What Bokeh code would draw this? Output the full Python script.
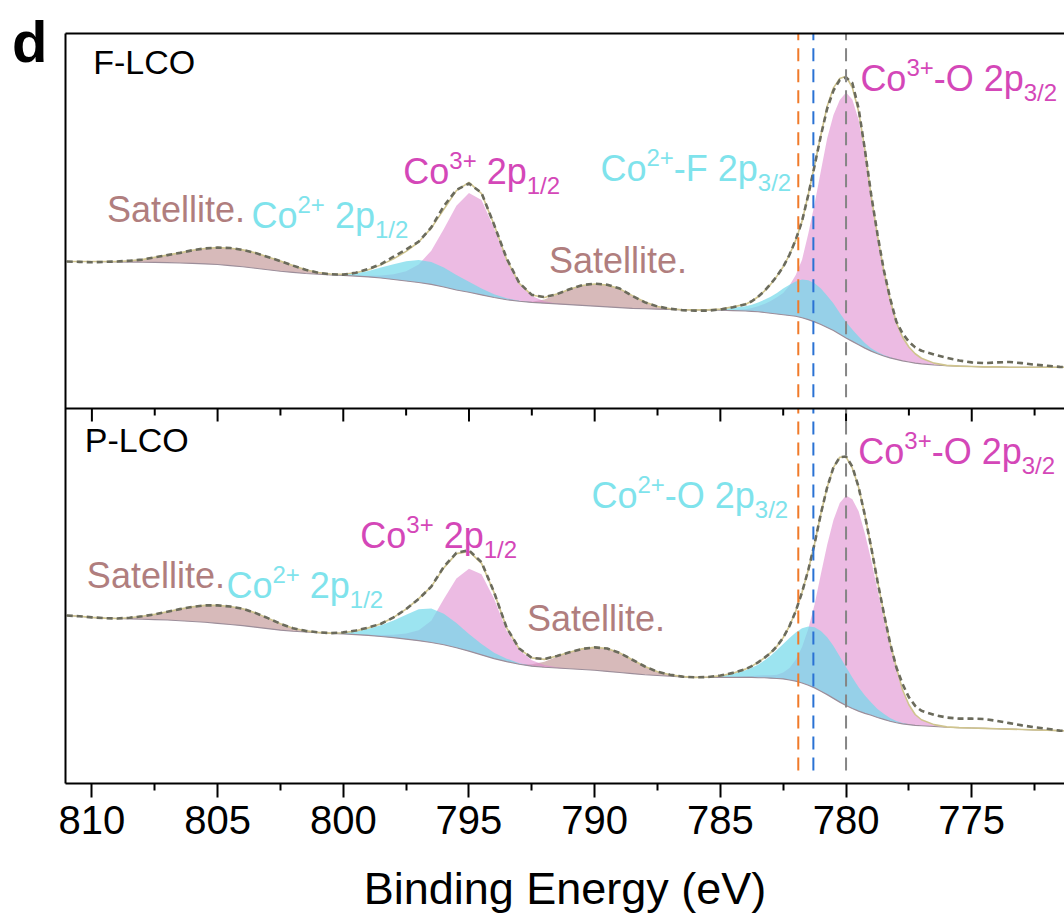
from bokeh.plotting import figure
from bokeh.models import Range1d, LinearAxis, Label, Span, FixedTicker
from bokeh.embed import file_html
from bokeh.resources import INLINE

# ---------------- data ----------------
energy = [811.0, 810.5, 810.0, 809.5, 809.0, 808.5, 808.0, 807.5, 807.0, 806.5,
          806.0, 805.5, 805.0, 804.5, 804.0, 803.5, 803.0, 802.5, 802.0, 801.5,
          801.0, 800.5, 800.0, 799.5, 799.0, 798.5, 798.0, 797.5, 797.0, 796.5,
          796.0, 795.5, 795.0, 794.5, 794.0, 793.5, 793.0, 792.5, 792.0, 791.5,
          791.0, 790.5, 790.0, 789.5, 789.0, 788.5, 788.0, 787.5, 787.0, 786.5,
          786.0, 785.5, 785.0, 784.5, 784.0,
          783.75, 783.5, 783.25, 783.0, 782.75, 782.5, 782.25, 782.0, 781.75, 781.5,
          781.25, 781.0, 780.75, 780.5, 780.25, 780.0, 779.75, 779.5, 779.25, 779.0,
          778.75, 778.5, 778.25, 778.0, 777.75, 777.5, 777.25, 777.0,
          776.5, 776.0, 775.5, 775.0, 774.5, 774.0, 773.5, 773.0, 772.5, 772.0, 771.5, 771.0]

# F-LCO (upper panel)
raw_f = [39.2, 39.1, 39.0, 39.1, 39.2, 39.4, 39.7, 40.3, 40.9, 41.5,
         42.2, 42.7, 42.9, 42.8, 42.3, 41.5, 40.4, 39.3, 38.1, 37.0,
         36.2, 35.8, 35.7, 36.2, 37.2, 38.5, 40.5, 42.4, 44.5, 48.3,
         54.0, 58.3, 60.0, 57.5, 49.0, 40.0, 33.5, 30.3, 29.7, 30.5,
         31.8, 32.9, 33.3, 33.0, 32.0, 30.0, 28.3, 27.2, 26.6, 26.2,
         26.1, 26.1, 26.4, 27.0, 27.8,
         28.6, 29.8, 31.3, 33.2, 35.3, 37.8, 41.0, 45.0, 50.0, 57.0,
         64.8, 72.8, 80.0, 84.8, 87.6, 88.3, 86.8, 80.0, 69.0, 57.0,
         46.5, 37.0, 29.5, 23.2, 20.0, 17.8, 16.3, 15.4,
         14.4, 13.5, 12.8, 12.3, 12.1, 12.3, 12.4, 12.1, 11.7, 11.4, 11.1, 11.0]
bg_f = [39.2, 39.2, 39.2, 39.15, 39.1, 39.05, 39.0, 38.95, 38.9, 38.8,
        38.7, 38.55, 38.4, 38.1, 37.8, 37.4, 37.0, 36.6, 36.3, 36.0,
        35.8, 35.6, 35.5, 35.3, 35.1, 34.8, 34.4, 34.0, 33.6, 33.1,
        32.4, 31.6, 31.0, 30.3, 29.6, 29.0, 28.6, 28.3, 28.1, 27.9,
        27.7, 27.5, 27.3, 27.1, 26.9, 26.7, 26.6, 26.5, 26.4, 26.3,
        26.3, 26.2, 26.2, 26.1, 26.0,
        25.9, 25.8, 25.6, 25.4, 25.2, 25.0, 24.8, 24.6, 24.2, 23.7,
        23.1, 22.4, 21.6, 20.8, 19.8, 18.8, 17.9, 17.0, 16.1, 15.3,
        14.6, 14.0, 13.5, 13.1, 12.7, 12.4, 12.1, 11.9,
        11.6, 11.4, 11.3, 11.2, 11.1, 11.1, 11.0, 11.0, 11.0, 11.0, 11.0, 11.0]

# P-LCO (lower panel)
raw_p = [44.8, 44.6, 44.3, 44.1, 44.0, 44.2, 44.6, 45.1, 45.8, 46.5,
         47.1, 47.5, 47.5, 47.2, 46.6, 45.5, 44.1, 42.6, 41.4, 40.7,
         40.3, 40.1, 40.3, 40.8, 41.6, 42.6, 44.3, 46.5, 49.2, 52.5,
         57.8, 61.5, 62.2, 59.0, 51.0, 41.5, 36.0, 33.5, 33.2, 34.0,
         35.0, 35.9, 36.3, 36.0, 34.8, 33.0, 31.2, 29.8, 29.0, 28.5,
         28.3, 28.4, 28.8, 29.5, 30.5,
         31.3, 32.3, 33.5, 34.8, 36.6, 38.9, 42.0, 46.0, 51.0, 57.0,
         64.0, 72.0, 79.0, 84.3, 87.0, 87.2, 84.5, 79.0, 71.5, 63.0,
         54.0, 45.5, 37.5, 31.0, 26.5, 23.0, 20.7, 19.4,
         18.3, 17.6, 17.3, 17.3, 17.2, 16.7, 16.1, 15.5, 15.0, 14.6, 14.1, 13.9]
bg_p = [44.8, 44.6, 44.3, 44.1, 44.0, 43.9, 43.8, 43.7, 43.6, 43.4,
        43.2, 43.0, 42.7, 42.4, 42.1, 41.7, 41.3, 40.9, 40.6, 40.4,
        40.2, 40.0, 39.9, 39.7, 39.5, 39.2, 38.9, 38.5, 38.1, 37.6,
        37.0, 36.2, 35.3, 34.3, 33.3, 32.5, 31.8, 31.3, 31.0, 30.8,
        30.6, 30.4, 30.2, 29.9, 29.6, 29.3, 29.0, 28.8, 28.6, 28.4,
        28.3, 28.3, 28.3, 28.3, 28.3,
        28.3, 28.2, 28.2, 28.1, 28.0, 27.9, 27.6, 27.3, 26.8, 26.2,
        25.5, 24.6, 23.7, 22.7, 21.7, 20.8, 20.0, 19.3, 18.7, 18.2,
        17.6, 17.1, 16.6, 16.2, 15.9, 15.7, 15.5, 15.4,
        15.2, 15.0, 14.9, 14.8, 14.7, 14.6, 14.5, 14.4, 14.3, 14.2, 14.1, 14.0]

# fitted components: energies and heights above the background
sat1_e = [810.5, 810.0, 809.5, 809.0, 808.5, 808.0, 807.5, 807.0, 806.5, 806.0, 805.5,
          805.0, 804.5, 804.0, 803.5, 803.0, 802.5, 802.0, 801.5, 801.0, 800.5, 800.0]
co2_12_e = [800.5, 800.0, 799.5, 799.0, 798.5, 798.0, 797.5, 797.0, 796.5, 796.0,
            795.5, 795.0, 794.5, 794.0, 793.5, 793.0, 792.5, 792.0]
co3_12_e = [799.5, 799.0, 798.5, 798.0, 797.5, 797.0, 796.5, 796.0, 795.5, 795.0,
            794.5, 794.0, 793.5, 793.0, 792.5, 792.0, 791.5, 791.0]
sat2_e = [793.0, 792.5, 792.0, 791.5, 791.0, 790.5, 790.0, 789.5, 789.0, 788.5,
          788.0, 787.5, 787.0, 786.5, 786.0]
co2_32_e = [785.5, 785.0, 784.5, 784.0,
            783.75, 783.5, 783.25, 783.0, 782.75, 782.5, 782.25, 782.0, 781.75, 781.5,
            781.25, 781.0, 780.75, 780.5, 780.25, 780.0, 779.75, 779.5, 779.25, 779.0,
            778.75, 778.5, 778.25, 778.0, 777.75, 777.5, 777.25, 777.0]
co3_32_e = [784.5, 784.0,
            783.75, 783.5, 783.25, 783.0, 782.75, 782.5, 782.25, 782.0, 781.75, 781.5,
            781.25, 781.0, 780.75, 780.5, 780.25, 780.0, 779.75, 779.5, 779.25, 779.0,
            778.75, 778.5, 778.25, 778.0, 777.75, 777.5, 777.25, 777.0,
            776.5, 776.0]

sat1_f = [0.0, 0.0, 0.05, 0.1, 0.35, 0.7, 1.35, 2.0, 2.7, 3.5, 4.1,
          4.5, 4.65, 4.5, 4.1, 3.4, 2.7, 1.8, 1.0, 0.45, 0.15, 0.0]
co2_12_f = [0.1, 0.3, 0.8, 1.6, 2.8, 4.1, 5.3, 6.0, 6.0, 5.2,
            4.0, 2.8, 1.7, 0.9, 0.4, 0.15, 0.05, 0.0]
co3_12_f = [0.1, 0.3, 0.7, 1.4, 2.6, 4.8, 9.0, 15.5, 22.5, 26.5,
            25.3, 18.5, 10.3, 4.6, 1.7, 0.5, 0.1, 0.0]
sat2_f = [0.0, 0.2, 1.0, 2.5, 4.1, 5.3, 5.9, 5.8, 5.0, 3.4, 1.8, 0.7, 0.2, 0.05, 0.0]
co2_32_f = [0.1, 0.3, 0.8, 1.3,
            1.8, 2.5, 3.4, 4.4, 5.6, 7.0, 8.2, 9.3, 10.2, 10.5,
            10.3, 9.6, 8.5, 7.2, 5.7, 4.3, 3.2, 2.2, 1.4, 0.8,
            0.5, 0.3, 0.15, 0.05, 0.0, 0.0, 0.0, 0.0]
co3_32_f = [0.2, 0.5,
            0.9, 1.5, 2.3, 3.3, 4.5, 5.8, 8.0, 11.0, 15.5, 23.0,
            31.5, 41.0, 50.5, 57.5, 62.5, 65.5, 64.5, 60.0, 51.5, 40.5,
            31.0, 22.5, 15.5, 9.8, 6.3, 4.0, 2.5, 1.5,
            0.5, 0.1]

sat1_p = [0.0, 0.0, 0.0, 0.0, 0.3, 0.8, 1.4, 2.2, 3.1, 3.9, 4.5,
          4.8, 4.8, 4.5, 3.8, 2.8, 1.7, 0.8, 0.3, 0.1, 0.0, 0.0]
co2_12_p = [0.1, 0.3, 0.9, 1.8, 3.0, 4.6, 6.5, 8.4, 9.1, 8.3,
            6.6, 4.6, 2.9, 1.6, 0.8, 0.3, 0.1, 0.0]
co3_12_p = [0.1, 0.2, 0.4, 0.8, 1.5, 2.8, 5.8, 12.2, 18.5, 22.0,
            21.5, 16.0, 8.2, 3.8, 1.6, 0.6, 0.2, 0.0]
sat2_p = [0.0, 0.5, 1.5, 3.0, 4.4, 5.5, 6.1, 6.1, 5.2, 3.7, 2.2, 1.0, 0.4, 0.1, 0.0]
co2_32_p = [0.1, 0.4, 1.0, 1.9,
            2.6, 3.5, 4.6, 6.0, 7.6, 9.3, 11.2, 13.0, 14.6, 15.7,
            16.2, 16.1, 15.3, 14.0, 12.2, 10.3, 8.3, 6.4, 4.8, 3.4,
            2.3, 1.5, 0.9, 0.5, 0.25, 0.1, 0.0, 0.0]
co3_32_p = [0.1, 0.3,
            0.4, 0.6, 0.7, 0.8, 1.0, 1.7, 3.2, 5.7, 9.6, 15.1,
            22.3, 31.3, 40.0, 47.6, 53.1, 56.0, 55.8, 53.3, 48.0, 41.4,
            34.1, 26.9, 20.0, 14.3, 8.8, 5.2, 2.9, 1.6,
            0.5, 0.1]

ref_lines = [781.9, 781.3, 780.0]
major_ticks = [810, 805, 800, 795, 790, 785, 780, 775]
minor_ticks = [807.5, 802.5, 797.5, 792.5, 787.5, 782.5, 777.5, 772.5]

# ---------------- styling ----------------
FONT = "Liberation Sans"
PINK, PINK_A = "#DE8ACF", 0.58
CYAN, CYAN_A = "#72D8E9", 0.7
SATC, SAT_A = "#BD8C8C", 0.6
TXT_SAT = "#B07E7E"
TXT_CYAN = "#7FE3EC"
TXT_PINK = "#D447B8"
LINE_COLORS = ["#F07A2A", "#2A72D4", "#858585"]

p = figure(width=1064, height=916, output_backend="svg", toolbar_location=None,
           x_range=Range1d(811.05, 771.31), y_range=Range1d(0, 200),
           min_border_left=65, min_border_right=0, min_border_top=33,
           min_border_bottom=133)
p.extra_y_ranges = {"top": Range1d(-100, 100)}
p.outline_line_color = None
p.xgrid.visible = False
p.ygrid.visible = False

# bottom axis
xa = p.xaxis[0]
xa.ticker = FixedTicker(ticks=major_ticks, minor_ticks=minor_ticks)
xa.axis_line_width = 2
xa.major_tick_line_width = 2
xa.minor_tick_line_width = 2
xa.major_tick_out = 14
xa.major_tick_in = 0
xa.minor_tick_out = 7
xa.minor_tick_in = 0
xa.major_label_text_font = FONT
xa.major_label_text_font_size = "40px"
xa.major_label_text_color = "black"
xa.major_label_standoff = 8
xa.axis_label = "Binding Energy (eV)"
xa.axis_label_text_font = FONT
xa.axis_label_text_font_size = "45px"
xa.axis_label_text_font_style = "normal"
xa.axis_label_text_color = "black"
xa.axis_label_standoff = 26

# left border; its single tick label carries the panel letter "d"
ya = p.yaxis[0]
ya.ticker = FixedTicker(ticks=[198.0])
ya.major_label_overrides = {198.0: "d"}
ya.axis_line_width = 2
ya.major_label_text_font = FONT
ya.major_label_text_font_size = "58px"
ya.major_label_text_font_style = "bold"
ya.major_label_text_color = "black"
ya.major_label_standoff = 18
ya.major_tick_out = 0
ya.major_tick_in = 0
ya.major_tick_line_color = None
ya.minor_tick_line_color = None

# top border
top_ax = LinearAxis(ticker=FixedTicker(ticks=[]), axis_line_width=2,
                    major_label_text_font_size="0px",
                    major_tick_line_color=None, minor_tick_line_color=None)
p.add_layout(top_ax, "above")

# divider between the two panels with inward ticks
p.add_layout(Span(location=100, dimension="width", line_color="black", line_width=2))
p.segment(x0=major_ticks, y0=[100] * len(major_ticks), x1=major_ticks,
          y1=[100 - 13 / 3.75] * len(major_ticks), line_color="black", line_width=2)
p.segment(x0=minor_ticks, y0=[100] * len(minor_ticks), x1=minor_ticks,
          y1=[100 - 7 / 3.75] * len(minor_ticks), line_color="black", line_width=2)


def draw_panel(raw, bg, comps, rng):
    bgmap = dict(zip(energy, bg))
    kw = {} if rng is None else {"y_range_name": rng}
    order = [(comps["sat1"], sat1_e, SATC, SAT_A), (comps["sat2"], sat2_e, SATC, SAT_A),
             (comps["co3_12"], co3_12_e, PINK, PINK_A), (comps["co3_32"], co3_32_e, PINK, PINK_A),
             (comps["co2_12"], co2_12_e, CYAN, CYAN_A), (comps["co2_32"], co2_32_e, CYAN, CYAN_A)]
    maps = []
    for h, e, col, a in order:
        lo = [bgmap[v] for v in e]
        hi = [bgmap[v] + hv for v, hv in zip(e, h)]
        p.varea(x=e, y1=lo, y2=hi, fill_color=col, fill_alpha=a, **kw)
        maps.append(dict(zip(e, h)))
    envelope = [b + sum(m.get(v, 0.0) for m in maps) for v, b in zip(energy, bg)]
    p.line(energy, bg, line_color="#9C8E9A", line_width=1.2, **kw)
    p.line(energy, envelope, line_color="#CFC48E", line_width=1.6, **kw)
    p.line(energy, raw, line_color="#6B6B5C", line_width=2.6, line_dash="6 4", **kw)


draw_panel(raw_f, bg_f, dict(sat1=sat1_f, sat2=sat2_f, co3_12=co3_12_f, co3_32=co3_32_f,
                             co2_12=co2_12_f, co2_32=co2_32_f), "top")
draw_panel(raw_p, bg_p, dict(sat1=sat1_p, sat2=sat2_p, co3_12=co3_12_p, co3_32=co3_32_p,
                             co2_12=co2_12_p, co2_32=co2_32_p), None)

# reference dashed lines
for xv, col in zip(ref_lines, LINE_COLORS):
    p.segment(x0=[xv], y0=[3.0], x1=[xv], y1=[100], line_color=col, line_width=2,
              line_dash="13 8", y_range_name="top")
    p.segment(x0=[xv], y0=[3.5], x1=[xv], y1=[100], line_color=col, line_width=2,
              line_dash="13 8")


def add_text(x, y, pieces, color, rng):
    for text, dx, dy, size in pieces:
        kw = {} if rng is None else {"y_range_name": rng}
        fix = round(0.34 * float(size[:-2]))
        p.add_layout(Label(x=x, y=y, x_offset=dx, y_offset=dy + fix, text=text,
                           text_font=FONT, text_font_size=size, text_color=color,
                           text_baseline="alphabetic", text_align="left", **kw))


def co_label(x, y, sup, mid, sub, color, rng):
    mid_w = {"2p": 0, "-F 2p": 74.0, "-O 2p": 80.0}[mid]
    if mid == "2p":
        pieces = [("Co", 0, 0, "36px"), (sup, 46, 15, "24px"),
                  ("2p", 83.4, 0, "36px"), (sub, 123.4, -10, "24px")]
    else:
        pieces = [("Co", 0, 0, "36px"), (sup, 46, 15, "24px"),
                  (mid, 73.4, 0, "36px"), (sub, 83.4 + mid_w, -10, "24px")]
    add_text(x, y, pieces, color, rng)


# upper panel texts
add_text(809.95, 89.1, [("F-LCO", 0, 0, "34px")], "black", "top")
add_text(809.40, 49.9, [("Satellite.", 0, 0, "36px")], TXT_SAT, "top")
co_label(803.65, 48.3, "2+", "2p", "1/2", TXT_CYAN, "top")
co_label(797.61, 60.0, "3+", "2p", "1/2", TXT_PINK, "top")
add_text(791.82, 36.3, [("Satellite.", 0, 0, "36px")], TXT_SAT, "top")
co_label(789.77, 60.8, "2+", "-F 2p", "3/2", TXT_CYAN, "top")
co_label(779.43, 84.8, "3+", "-O 2p", "3/2", TXT_PINK, "top")

# lower panel texts
add_text(810.28, 88.5, [("P-LCO", 0, 0, "34px")], "black", None)
add_text(810.20, 52.3, [("Satellite.", 0, 0, "36px")], TXT_SAT, None)
co_label(804.65, 49.6, "2+", "2p", "1/2", TXT_CYAN, None)
co_label(799.32, 62.9, "3+", "2p", "1/2", TXT_PINK, None)
add_text(792.69, 40.8, [("Satellite.", 0, 0, "36px")], TXT_SAT, None)
co_label(790.13, 73.6, "2+", "-O 2p", "3/2", TXT_CYAN, None)
co_label(779.51, 85.3, "3+", "-O 2p", "3/2", TXT_PINK, None)

open("out.html", "w").write(file_html(p, INLINE))
